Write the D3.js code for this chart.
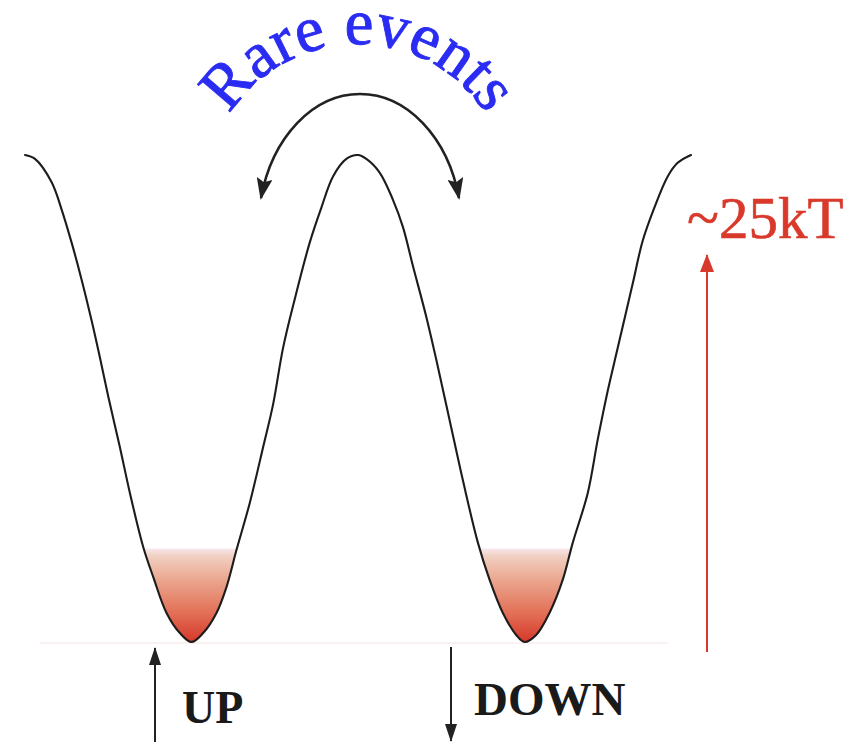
<!DOCTYPE html>
<html>
<head>
<meta charset="utf-8">
<script src="https://cdn.jsdelivr.net/npm/d3@7"></script>
<style>
  html, body { margin: 0; padding: 0; background: #fff; }
  svg { display: block; }
</style>
</head>
<body>
<svg id="chart" width="857" height="742"></svg>
<script>
// ---- Data ----
// reaction coordinate (arbitrary units, wells at -1 and +1)
const reactionCoord = [
  -2.00, -1.94, -1.84, -1.78, -1.72, -1.66, -1.60, -1.55, -1.50, -1.43, -1.37, -1.29, -1.23, -1.15, -1.07, -1.00,
  -0.93, -0.85, -0.79, -0.73, -0.65, -0.57, -0.51, -0.45, -0.38, -0.29, -0.22, -0.15, -0.07, 0.00,
  0.05, 0.13, 0.21, 0.27, 0.33, 0.41, 0.47, 0.55, 0.63, 0.72, 0.79, 0.87, 0.95, 1.00,
  1.07, 1.15, 1.23, 1.29, 1.38, 1.44, 1.50, 1.56, 1.65, 1.71, 1.78, 1.86, 1.92, 2.00
];
// free energy in kT
const energyKT = [
  25.0, 24.8, 23.6, 22.2, 20.5, 18.6, 16.5, 14.6, 12.6, 10.0, 7.65, 4.88, 3.34, 1.49, 0.46, 0.00,
  0.46, 1.49, 2.82, 4.72, 7.14, 10.0, 12.2, 15.1, 17.6, 20.5, 22.3, 23.9, 24.8, 25.0,
  24.8, 24.1, 22.7, 21.3, 19.3, 16.7, 14.5, 11.4, 8.3, 5.1, 3.2, 1.49, 0.36, 0.00,
  0.36, 1.49, 3.2, 5.1, 7.65, 10.4, 12.9, 15.1, 18.4, 20.6, 22.3, 23.9, 24.6, 25.0
];
const thermalLevelKT = 4.8;          // top of the populated (red) region
const barrierLabel = "~25kT";
const titleLabel = "Rare events";
const stateLabels = ["UP", "DOWN"];

const points = reactionCoord.map((q, i) => ({ q, e: energyKT[i] }));

// ---- Layout ----
const svg = d3.select("#chart");
const x = d3.scaleLinear().domain([-2, 2]).range([25, 691]);
const y = d3.scaleLinear().domain([0, 25]).range([642, 155]);

const defs = svg.append("defs");

// gradient for the populated region
const grad = defs.append("linearGradient")
  .attr("id", "popGrad")
  .attr("gradientUnits", "userSpaceOnUse")
  .attr("x1", 0).attr("x2", 0)
  .attr("y1", y(thermalLevelKT)).attr("y2", y(0));
[
  [0.00, "#f8e8ee"],
  [0.08, "#f1d0c2"],
  [0.35, "#eaa48c"],
  [0.70, "#e26e55"],
  [1.00, "#d5382a"]
].forEach(([o, c]) => grad.append("stop").attr("offset", o).attr("stop-color", c));

// clip: region above the curve
const clipArea = d3.area()
  .x(d => x(d.q))
  .y0(0)
  .y1(d => y(d.e))
  .curve(d3.curveCatmullRom.alpha(0.5));
defs.append("clipPath").attr("id", "aboveCurve")
  .append("path").attr("d", clipArea(points));

// arrow markers
defs.append("marker")
  .attr("id", "headDark")
  .attr("viewBox", "0 0 22 16")
  .attr("refX", 20).attr("refY", 8)
  .attr("markerUnits", "userSpaceOnUse")
  .attr("markerWidth", 22).attr("markerHeight", 16)
  .attr("orient", "auto-start-reverse")
  .append("path").attr("d", "M0,0 L22,8 L0,16 L4,8 Z").attr("fill", "#222");

defs.append("marker")
  .attr("id", "headStraight")
  .attr("viewBox", "0 0 18 12")
  .attr("refX", 17).attr("refY", 6)
  .attr("markerUnits", "userSpaceOnUse")
  .attr("markerWidth", 18).attr("markerHeight", 12)
  .attr("orient", "auto")
  .append("path").attr("d", "M0,0 L18,6 L0,12 Z").attr("fill", "#222");

defs.append("marker")
  .attr("id", "headRed")
  .attr("viewBox", "0 0 18 14")
  .attr("refX", 17).attr("refY", 7)
  .attr("markerUnits", "userSpaceOnUse")
  .attr("markerWidth", 18).attr("markerHeight", 14)
  .attr("orient", "auto")
  .append("path").attr("d", "M0,0 L18,7 L0,14 Z").attr("fill", "#d9392b");

// faint baseline
svg.append("line")
  .attr("x1", 40).attr("x2", 668)
  .attr("y1", y(0) + 1).attr("y2", y(0) + 1)
  .attr("stroke", "#f6e4e8").attr("stroke-width", 1.2);

// populated region
svg.append("rect")
  .attr("x", x(-2)).attr("width", x(2) - x(-2))
  .attr("y", y(thermalLevelKT)).attr("height", y(0) - y(thermalLevelKT) + 1)
  .attr("fill", "url(#popGrad)")
  .attr("clip-path", "url(#aboveCurve)");

// energy curve
const line = d3.line()
  .x(d => x(d.q))
  .y(d => y(d.e))
  .curve(d3.curveCatmullRom.alpha(0.5));
svg.append("path")
  .attr("d", line(points))
  .attr("fill", "none")
  .attr("stroke", "#1c1c1c")
  .attr("stroke-width", 2.1)
  .attr("stroke-linejoin", "round")
  .attr("stroke-linecap", "round");

// curved double arrow
svg.append("path")
  .attr("d", "M 261 198 A 102 137 0 0 1 459 198")
  .attr("fill", "none")
  .attr("stroke", "#222")
  .attr("stroke-width", 2.6)
  .attr("marker-start", "url(#headDark)")
  .attr("marker-end", "url(#headDark)");

// curved title
const cx = 358, cy = 196, r = 152;
defs.append("path")
  .attr("id", "titleArc")
  .attr("d", `M ${cx - r} ${cy} A ${r} ${r} 0 0 1 ${cx + r} ${cy}`);
svg.append("text")
  .attr("font-family", "'Liberation Serif', 'Times New Roman', serif")
  .attr("font-size", 65)
  .attr("fill", "#2a2cf2")
  .attr("stroke", "#2a2cf2")
  .attr("stroke-width", 0.9)
  .append("textPath")
  .attr("href", "#titleArc")
  .attr("startOffset", "50%")
  .attr("text-anchor", "middle")
  .text(titleLabel);

// barrier arrow and label
svg.append("line")
  .attr("x1", 707).attr("x2", 707)
  .attr("y1", 652).attr("y2", 255)
  .attr("stroke", "#d9392b").attr("stroke-width", 2)
  .attr("marker-end", "url(#headRed)");
svg.append("text")
  .attr("x", 687).attr("y", 238)
  .attr("font-family", "'Liberation Serif', 'Times New Roman', serif")
  .attr("font-size", 59)
  .attr("fill", "#d9392b")
  .attr("stroke", "#d9392b")
  .attr("stroke-width", 0.6)
  .text(barrierLabel);

// UP / DOWN arrows
svg.append("line")
  .attr("x1", 155).attr("x2", 155)
  .attr("y1", 742).attr("y2", 648)
  .attr("stroke", "#222").attr("stroke-width", 2)
  .attr("marker-end", "url(#headStraight)");
svg.append("text")
  .attr("x", 182).attr("y", 723)
  .attr("font-family", "'Liberation Serif', 'Times New Roman', serif")
  .attr("font-weight", "bold")
  .attr("font-size", 46)
  .attr("fill", "#1a1a1a")
  .text(stateLabels[0]);

svg.append("line")
  .attr("x1", 451).attr("x2", 451)
  .attr("y1", 647).attr("y2", 741)
  .attr("stroke", "#222").attr("stroke-width", 2)
  .attr("marker-end", "url(#headStraight)");
svg.append("text")
  .attr("x", 474).attr("y", 715)
  .attr("font-family", "'Liberation Serif', 'Times New Roman', serif")
  .attr("font-weight", "bold")
  .attr("font-size", 47)
  .attr("fill", "#1a1a1a")
  .text(stateLabels[1]);
</script>
</body>
</html>
